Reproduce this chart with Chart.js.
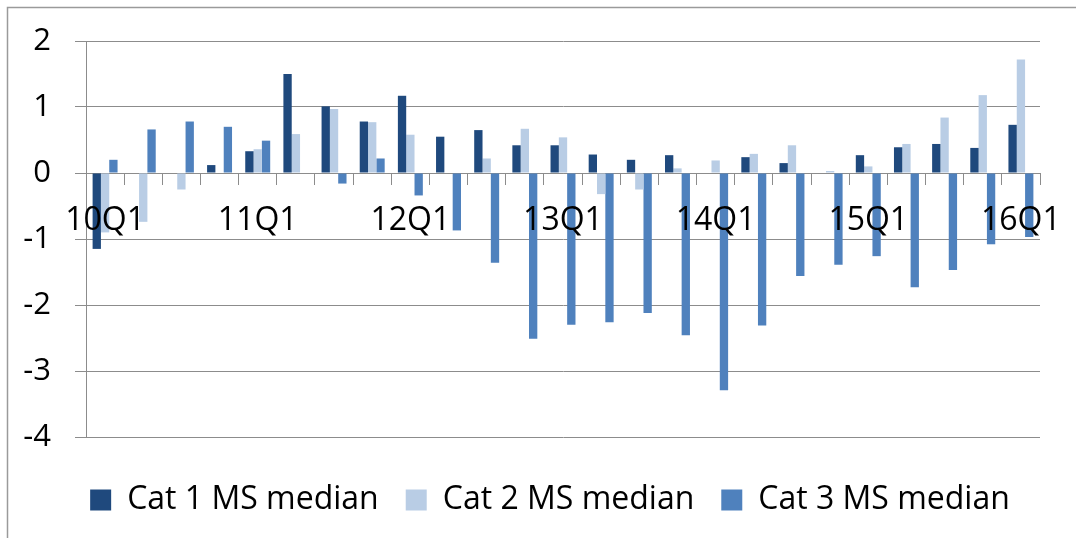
<!DOCTYPE html>
<html lang="en">
<head>
  <meta charset="UTF-8">
  <title>Cat MS median</title>
  <script src="https://cdn.jsdelivr.net/npm/chart.js"></script>
  <style>
    html, body { margin: 0; padding: 0; background: #fff; }
    #wrap { width: 1076px; height: 538px; }
  </style>
</head>
<body>
<div id="wrap"><canvas id="chart" width="1076" height="538"></canvas></div>
<script>
  // quarters 10Q1 .. 16Q1
  const quarters = [
    '10Q1', '10Q2', '10Q3', '10Q4',
    '11Q1', '11Q2', '11Q3', '11Q4',
    '12Q1', '12Q2', '12Q3', '12Q4',
    '13Q1', '13Q2', '13Q3', '13Q4',
    '14Q1', '14Q2', '14Q3', '14Q4',
    '15Q1', '15Q2', '15Q3', '15Q4',
    '16Q1'
  ];

  const cat1 = [-1.15, null, null, 0.12, 0.33, 1.50, 1.01, 0.78, 1.17, 0.55, 0.65, 0.42, 0.42,
    0.28, 0.20, 0.27, null, 0.24, 0.15, null, 0.27, 0.39, 0.44, 0.38, 0.73];
  const cat2 = [-0.9, -0.74, -0.25, null, 0.36, 0.59, 0.97, 0.77, 0.58, null, 0.22, 0.67, 0.54,
    -0.32, -0.25, 0.07, 0.19, 0.29, 0.42, 0.03, 0.10, 0.44, 0.84, 1.18, 1.72];
  const cat3 = [0.20, 0.66, 0.78, 0.70, 0.49, null, -0.16, 0.22, -0.34, -0.87, -1.36, -2.51, -2.30,
    -2.26, -2.12, -2.46, -3.29, -2.31, -1.56, -1.39, -1.26, -1.73, -1.47, -1.08, -0.97];

  const seriesNames = ['Cat 1 MS median', 'Cat 2 MS median', 'Cat 3 MS median'];
  const seriesColors = ['#1F497D', '#B9CDE5', '#4F81BD'];

  const gridGray = '#8c8c8c';
  const fontFamily = '"Open Sans", "Liberation Sans", sans-serif';

  // outer frame, only top and left edges are inside the picture
  const framePlugin = {
    id: 'frame',
    afterLayout(chart) {
      // nudge the legend a bit to the right, like the original
      if (chart.legend) {
        chart.legend.left += 30;
        chart.legend.right += 30;
      }
    },
    beforeDraw(chart) {
      const ctx = chart.ctx;
      ctx.save();
      ctx.strokeStyle = '#9a9a9a';
      ctx.lineWidth = 1.5;
      ctx.beginPath();
      ctx.moveTo(7.5, 540);
      ctx.lineTo(7.5, 7.5);
      ctx.lineTo(1080, 7.5);
      ctx.stroke();
      ctx.restore();
    }
  };

  const ctx = document.getElementById('chart').getContext('2d');
  new Chart(ctx, {
    type: 'bar',
    data: {
      labels: quarters,
      datasets: [
        { label: seriesNames[0], data: cat1, backgroundColor: seriesColors[0] },
        { label: seriesNames[1], data: cat2, backgroundColor: seriesColors[1] },
        { label: seriesNames[2], data: cat3, backgroundColor: seriesColors[2] }
      ]
    },
    options: {
      responsive: false,
      animation: false,
      devicePixelRatio: 1,
      categoryPercentage: 0.654,
      barPercentage: 1.0,
      layout: { padding: { left: 0, right: 36, top: 41, bottom: 12 } },
      scales: {
        x: {
          position: { y: 0 },
          offset: true,
          grid: {
            drawOnChartArea: false,
            drawTicks: true,
            tickLength: 11,
            color: gridGray,
            offset: true
          },
          border: { display: true, color: gridGray, width: 1 },
          ticks: {
            z: 1,
            autoSkip: false,
            maxRotation: 0,
            minRotation: 0,
            padding: 18,
            color: '#000',
            font: { family: fontFamily, size: 32 },
            callback: function (value, index) {
              return index % 4 === 0 ? quarters[index] : '';
            }
          },
          afterFit: function (scale) {
            scale.paddingLeft = 0;
            scale.paddingRight = 0;
          }
        },
        y: {
          min: -4,
          max: 2,
          ticks: {
            stepSize: 1,
            padding: 24,
            color: '#000',
            font: { family: fontFamily, size: 31 }
          },
          grid: {
            color: gridGray,
            tickLength: 11
          },
          border: { display: true, color: gridGray, width: 1 },
          afterFit: function (scale) {
            scale.width = 86;
            scale.paddingTop = 0;
            scale.paddingBottom = 0;
          }
        }
      },
      plugins: {
        legend: {
          position: 'bottom',
          labels: {
            boxWidth: 21,
            boxHeight: 21,
            padding: 27,
            color: '#000',
            font: { family: fontFamily, size: 32 }
          },
          title: { display: true, text: '', padding: { top: 4, bottom: 4 }, font: { size: 10 } }
        },
        tooltip: { enabled: false }
      }
    },
    plugins: [framePlugin]
  });
</script>
</body>
</html>
